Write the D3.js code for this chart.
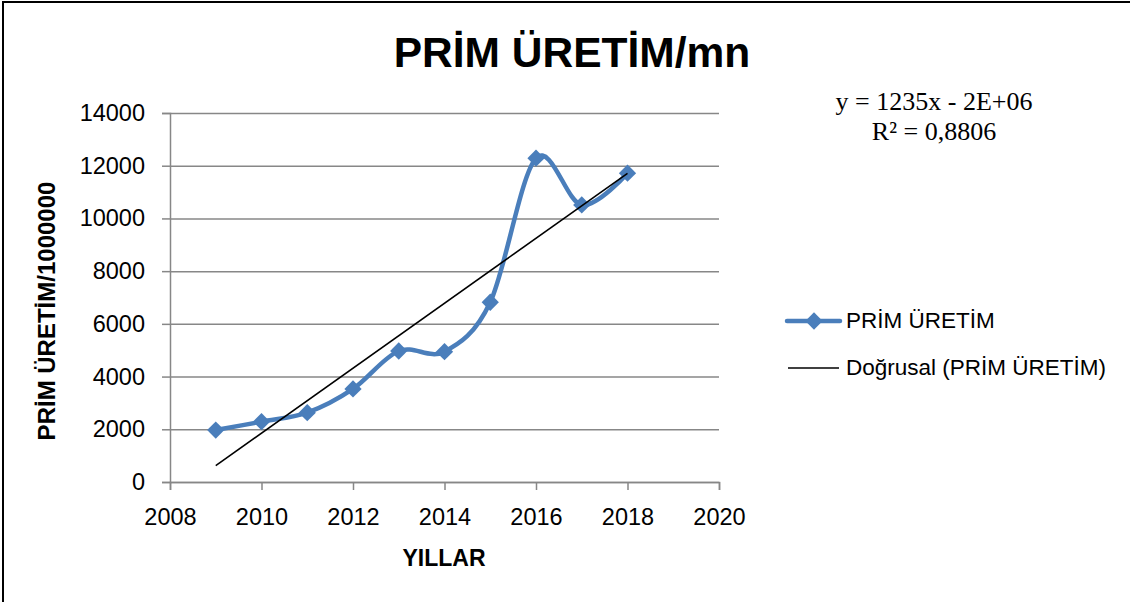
<!DOCTYPE html>
<html lang="tr">
<head>
    <meta charset="UTF-8">
    <title>PRİM ÜRETİM/mn</title>
    <script src="https://cdn.jsdelivr.net/npm/d3@7"></script>
</head>
<body style="margin:0; background:#fff;">
<script>
    // values
    const years = [2009, 2010, 2011, 2012, 2013, 2014, 2015, 2016, 2017, 2018];
    const premium = [1970, 2290, 2630, 3530, 4970, 4945, 6820, 12285, 10510, 11715];
    const xTicks = [2008, 2010, 2012, 2014, 2016, 2018, 2020];
    const yTicks = [0, 2000, 4000, 6000, 8000, 10000, 12000, 14000];
    const equation = ["y = 1235x - 2E+06", "R² = 0,8806"];
    const legendNames = ["PRİM ÜRETİM", "Doğrusal (PRİM ÜRETİM)"];

    const width = 1130, height = 602;
    const blue = "#4a7ebb", grid = "#878787";
    const font = "'Liberation Sans', Arial, sans-serif";

    const svg = d3.select("body").append("svg")
        .attr("width", width)
        .attr("height", height)
        .style("display", "block");

    // chart frame (cropped on right/bottom)
    svg.append("path")
        .attr("d", `M3,${height} V2 H${width}`)
        .attr("fill", "none")
        .attr("stroke", "#000")
        .attr("stroke-width", 2);

    const x = d3.scaleLinear().domain([2008, 2020]).range([170, 719]);
    const y = d3.scaleLinear().domain([0, 14000]).range([482, 113]);

    // gridlines
    svg.append("g")
        .attr("transform", `translate(${x.range()[0]},0)`)
        .call(d3.axisLeft(y).tickValues(yTicks).tickSize(-(x.range()[1] - x.range()[0])).tickFormat(""))
        .call(g => g.select(".domain").remove())
        .selectAll("line").attr("stroke", grid).attr("stroke-width", 1.5);

    // y axis
    svg.append("g")
        .attr("transform", `translate(${x.range()[0]},0)`)
        .call(d3.axisLeft(y).tickValues(yTicks).tickSize(8).tickPadding(17).tickFormat(d3.format("d")))
        .call(g => g.selectAll("line, path").attr("stroke", grid).attr("stroke-width", 1.5))
        .call(g => g.selectAll("text").attr("fill", "#000").style("font-family", font).style("font-size", "23.5px"));

    // x axis
    svg.append("g")
        .attr("transform", `translate(0,${y.range()[0]})`)
        .call(d3.axisBottom(x).tickValues(xTicks).tickSize(8).tickPadding(18).tickFormat(d3.format("d")))
        .call(g => g.selectAll("line, path").attr("stroke", grid).attr("stroke-width", 1.5))
        .call(g => g.selectAll("text").attr("fill", "#000").style("font-family", font).style("font-size", "23.5px"));

    // linear trendline (least squares)
    const n = years.length;
    const mx = d3.mean(years), my = d3.mean(premium);
    const slope = d3.sum(years, (v, i) => (v - mx) * (premium[i] - my)) / d3.sum(years, v => (v - mx) ** 2);
    const icpt = my - slope * mx;
    const x0 = years[0], x1 = years[n - 1];

    // smoothed series line
    const pts = years.map((v, i) => [v, premium[i]]);
    svg.append("path")
        .datum(pts)
        .attr("fill", "none")
        .attr("stroke", blue)
        .attr("stroke-width", 4.5)
        .attr("stroke-linejoin", "round")
        .attr("d", d3.line().x(d => x(d[0])).y(d => y(d[1])).curve(d3.curveCardinal.tension(0)));

    const diamond = d3.symbol().type(d3.symbolDiamond2).size(190);
    svg.append("g").selectAll("path")
        .data(pts)
        .join("path")
        .attr("transform", d => `translate(${x(d[0])},${y(d[1])})`)
        .attr("d", diamond)
        .attr("fill", blue);

    svg.append("line")
        .attr("x1", x(x0)).attr("y1", y(slope * x0 + icpt))
        .attr("x2", x(x1)).attr("y2", y(slope * x1 + icpt))
        .attr("stroke", "#000")
        .attr("stroke-width", 1.6);

    // titles
    svg.append("text")
        .attr("x", 572).attr("y", 67)
        .attr("text-anchor", "middle")
        .style("font-family", font).style("font-weight", "bold").style("font-size", "42.5px")
        .text("PRİM ÜRETİM/mn");

    svg.append("text")
        .attr("transform", "translate(55,311) rotate(-90)")
        .attr("text-anchor", "middle")
        .style("font-family", font).style("font-weight", "bold").style("font-size", "24px")
        .text("PRİM ÜRETİM/1000000");

    svg.append("text")
        .attr("x", 444).attr("y", 566)
        .attr("text-anchor", "middle")
        .style("font-family", font).style("font-weight", "bold").style("font-size", "23px")
        .text("YILLAR");

    // trendline equation
    svg.append("g").selectAll("text")
        .data(equation)
        .join("text")
        .attr("x", 934)
        .attr("y", (d, i) => 110 + i * 30)
        .attr("text-anchor", "middle")
        .style("font-family", "'Liberation Serif', 'Times New Roman', serif")
        .style("font-size", "26px")
        .text(d => d);

    // legend
    const legend = svg.append("g").style("font-family", font).style("font-size", "22.5px");
    legend.append("line")
        .attr("x1", 787).attr("x2", 840).attr("y1", 321).attr("y2", 321)
        .attr("stroke", blue).attr("stroke-width", 4.5).attr("stroke-linecap", "round");
    legend.append("path")
        .attr("transform", "translate(814,321)")
        .attr("d", diamond)
        .attr("fill", blue);
    legend.append("line")
        .attr("x1", 788).attr("x2", 839).attr("y1", 368).attr("y2", 368)
        .attr("stroke", "#000").attr("stroke-width", 1.6);
    legend.selectAll("text")
        .data(legendNames)
        .join("text")
        .attr("x", 846)
        .attr("y", (d, i) => 328 + i * 47)
        .text(d => d);
</script>
</body>
</html>
